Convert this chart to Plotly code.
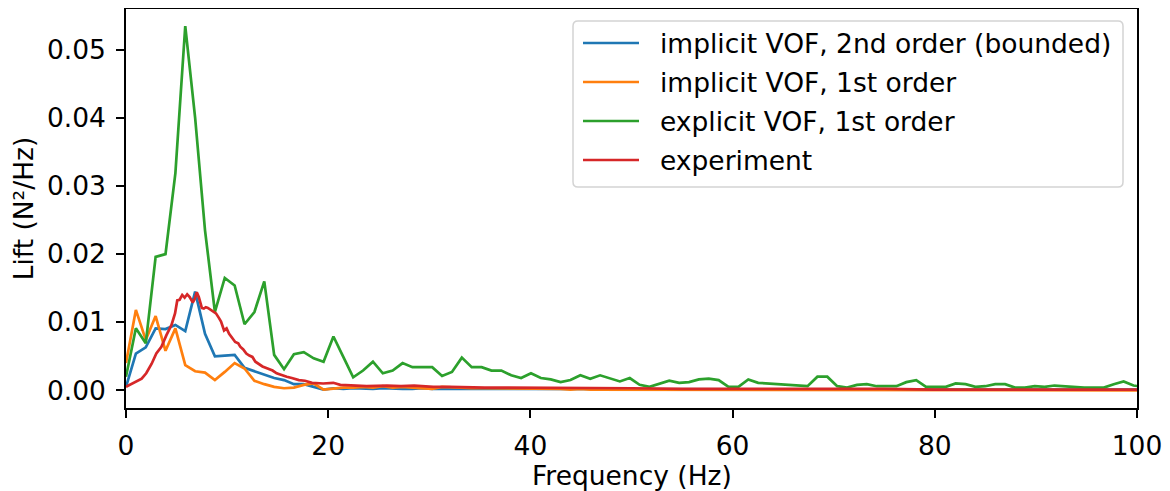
import plotly.graph_objects as go

# spectra
df = 0.977  # frequency step of the simulation spectra (Hz)

blue_vals = [0.0005, 0.0054, 0.0063, 0.0091, 0.0090, 0.0096, 0.0087, 0.0145, 0.0083, 0.0050,
             0.0051, 0.0052, 0.0033, 0.0028, 0.0024, 0.0018, 0.0015, 0.0009, 0.0009, 0.0005,
             0.0001, 0.0003, 0.0002, 0.0003, 0.0002, 0.0002, 0.0003, 0.0002, 0.0002, 0.0002,
             0.0003, 0.0002, 0.0002, 0.0002, 0.0001, 0.0002, 0.0002, 0.0002, 0.0001, 0.0002,
             0.0002, 0.0001, 0.0002, 0.0001, 0.0001, 0.0002, 0.0001, 0.0001, 0.0001, 0.0001,
             0.0001, 0.0001, 0.0001, 0.0001, 0.0001, 0.0001, 0.0001, 0.0001, 0.0001, 0.0001,
             0.0001, 0.0001, 0.0001, 0.0001, 0.0001, 0.0001, 0.0001, 0.0001, 0.0001, 0.0001,
             0.0001, 0.0001, 0.0001, 0.0001, 0.0001, 0.0001, 0.0001, 0.0001, 0.0001, 0.0001,
             0.0001, 0.0001, 0.0001, 0.0001, 0.0001, 0.0001, 0.0001, 0.0001, 0.0001, 0.0001,
             0.0001, 0.0001, 0.0001, 0.0001, 0.0001, 0.0001, 0.0001, 0.0001, 0.0001, 0.0001,
             0.0001, 0.0001, 0.0001, 0.0001]

orange_vals = [0.0040, 0.0118, 0.0074, 0.0109, 0.0058, 0.0091, 0.0037, 0.0028, 0.0026, 0.0015,
               0.0027, 0.0040, 0.0032, 0.0014, 0.0009, 0.0005, 0.0003, 0.0004, 0.0008, 0.0010,
               0.0001, 0.0003, 0.0004, 0.0004, 0.0005, 0.0004, 0.0006, 0.0004, 0.0005, 0.0004,
               0.0003, 0.0002, 0.0005, 0.0004, 0.0004, 0.0003, 0.0003, 0.0003, 0.0002, 0.0003,
               0.0002, 0.0002, 0.0002, 0.0002, 0.0002, 0.0001, 0.0002, 0.0001, 0.0001, 0.0001,
               0.0001, 0.0001, 0.0001, 0.0001, 0.0001, 0.0001, 0.0001, 0.0001, 0.0001, 0.0001,
               0.0001, 0.0001, 0.0001, 0.0001, 0.0001, 0.0001, 0.0001, 0.0001, 0.0001, 0.0001,
               0.0001, 0.0001, 0.0001, 0.0001, 0.0001, 0.0001, 0.0001, 0.0001, 0.0001, 0.0000,
               0.0000, 0.0000, 0.0000, 0.0000, 0.0000, 0.0000, 0.0000, 0.0000, 0.0000, 0.0000,
               0.0000, 0.0000, 0.0000, 0.0000, 0.0000, 0.0000, 0.0000, 0.0000, 0.0000, 0.0000,
               0.0000, 0.0000, 0.0000, 0.0000]

green_vals = [0.0020, 0.0091, 0.0069, 0.0196, 0.0200, 0.0319, 0.0535, 0.0400, 0.0235, 0.0115,
              0.0165, 0.0154, 0.0097, 0.0115, 0.0160, 0.0052, 0.0031, 0.0053, 0.0056, 0.0047,
              0.0042, 0.0079, 0.0049, 0.0019, 0.0029, 0.0042, 0.0025, 0.0029, 0.0040, 0.0034,
              0.0034, 0.0034, 0.0021, 0.0027, 0.0048, 0.0034, 0.0034, 0.0029, 0.0029, 0.0022,
              0.0018, 0.0025, 0.0018, 0.0016, 0.0012, 0.0015, 0.0022, 0.0017, 0.0022, 0.0017,
              0.0013, 0.0018, 0.0008, 0.0005, 0.0010, 0.0014, 0.0011, 0.0012, 0.0016, 0.0017,
              0.0015, 0.0005, 0.0005, 0.0016, 0.0011, 0.0010, 0.0008, 0.0007, 0.0006, 0.0006,
              0.0020, 0.0020, 0.0006, 0.0004, 0.0008, 0.0009, 0.0006, 0.0006, 0.0006, 0.0012,
              0.0015, 0.0005, 0.0005, 0.0005, 0.0010, 0.0009, 0.0005, 0.0006, 0.0009, 0.0009,
              0.0004, 0.0004, 0.0006, 0.0005, 0.0007, 0.0006, 0.0004, 0.0004, 0.0004, 0.0004,
              0.0009, 0.0013, 0.0007, 0.0005]

red_freq = [0, 0.7, 1.55, 2.0, 2.54, 3.0, 3.5, 4.0, 4.5, 4.85, 5.07, 5.3, 5.56, 5.8, 6.05,
            6.3, 6.6, 6.8, 7.0, 7.2, 7.5, 7.7, 7.9, 8.1, 8.3, 8.6, 8.9, 9.2, 9.4, 9.7,
            9.95, 10.2, 10.5, 10.8, 11.1, 11.3, 11.6, 11.9, 12.2, 12.5, 12.8, 13.2, 13.5, 14.0,
            14.5, 14.9, 15.4, 15.9, 16.4, 17.1, 17.7, 18.0, 18.4, 19.5, 20.5, 21.2, 22.5, 23.8,
            25.8, 27.2, 28.5, 30.4, 32.0, 33.7, 35.5, 37.0, 38.7, 40.3, 43.0, 46.9, 50.0, 55.0,
            60.0, 61.0, 62.0, 65.0, 70.0, 75.0, 80.0, 85.0, 90.0, 95.0, 100.0]
red_vals = [0.0005, 0.0010, 0.0017, 0.0025, 0.0039, 0.0054, 0.0064, 0.0081, 0.0096, 0.0113,
            0.0132, 0.0133, 0.0140, 0.0136, 0.0141, 0.0137, 0.0129, 0.0134, 0.0144, 0.0137,
            0.0121, 0.0120, 0.0122, 0.0121, 0.0119, 0.0115, 0.0113, 0.0106, 0.0101, 0.0088,
            0.0091, 0.0083, 0.0076, 0.0071, 0.0069, 0.0064, 0.0060, 0.0054, 0.0051, 0.0049,
            0.0042, 0.0038, 0.0035, 0.0032, 0.0029, 0.0025, 0.0022, 0.0020, 0.0018, 0.0015,
            0.0014, 0.0013, 0.0011, 0.0010, 0.0011, 0.0008, 0.0007, 0.0006, 0.0007, 0.0006,
            0.0007, 0.0005, 0.0005, 0.0004, 0.0004, 0.0004, 0.0004, 0.0004, 0.0003, 0.0003,
            0.0003, 0.0002, 0.0002, 0.0003, 0.0002, 0.0002, 0.0002, 0.0002, 0.0001, 0.0001,
            0.0001, 0.0001, 0.0001]

names = ["implicit VOF, 2nd order (bounded)", "implicit VOF, 1st order",
         "explicit VOF, 1st order", "experiment"]
colors = ["#1f77b4", "#ff7f0e", "#2ca02c", "#d62728"]

x_ticks = [0, 20, 40, 60, 80, 100]
y_ticks = [0.0, 0.01, 0.02, 0.03, 0.04, 0.05]
x_title = "Frequency (Hz)"
y_title = "Lift (N²/Hz)"

FS = 26.5

fig = go.Figure()
for i, vals in enumerate([blue_vals, orange_vals, green_vals]):
    fig.add_trace(go.Scatter(x=[k * df for k in range(len(vals))], y=vals, mode="lines",
                             name=names[i], line=dict(color=colors[i], width=2.7)))
fig.add_trace(go.Scatter(x=red_freq, y=red_vals, mode="lines", name=names[3],
                         line=dict(color=colors[3], width=2.7)))

axis_common = dict(showline=True, linecolor="black", linewidth=1.6, mirror=True,
                   ticks="outside", ticklen=8, tickwidth=1.6, tickcolor="black",
                   showgrid=False, zeroline=False, automargin=False,
                   tickfont=dict(size=FS, color="black"))

fig.update_xaxes(range=[0, 100], tickvals=x_ticks, ticklabelstandoff=5, **axis_common)
fig.update_yaxes(range=[-0.0026, 0.0560], tickvals=y_ticks, tickformat=".2f",
                 ticklabelstandoff=5,
                 title=dict(text=y_title, font=dict(size=FS, color="black"), standoff=6),
                 **axis_common)

# matplotlib-style legend drawn by hand (plotly's own legend has no gap
# between the line sample and the label)
PX0, PX1, PY0, PY1 = 126, 1137, 9, 408   # plot area in page pixels


def px(x):
    return (x - PX0) / (PX1 - PX0)


def py(y):
    return (PY1 - y) / (PY1 - PY0)


# x axis title placed as an annotation so its distance to the tick labels can be set
fig.add_annotation(text=x_title, xref="paper", yref="paper", x=0.5, y=py(475),
                   xanchor="center", yanchor="middle", showarrow=False,
                   font=dict(size=FS, color="black"))

bx0, bx1, by0, by1, r = 573, 1123, 21, 187, 5
rx, ry = r / (PX1 - PX0), r / (PY1 - PY0)
path = (f"M{px(bx0) + rx},{py(by0)} L{px(bx1) - rx},{py(by0)} "
        f"Q{px(bx1)},{py(by0)} {px(bx1)},{py(by0) - ry} "
        f"L{px(bx1)},{py(by1) + ry} Q{px(bx1)},{py(by1)} {px(bx1) - rx},{py(by1)} "
        f"L{px(bx0) + rx},{py(by1)} Q{px(bx0)},{py(by1)} {px(bx0)},{py(by1) + ry} "
        f"L{px(bx0)},{py(by0) - ry} Q{px(bx0)},{py(by0)} {px(bx0) + rx},{py(by0)} Z")
fig.add_shape(type="path", path=path, xref="paper", yref="paper", layer="above",
              fillcolor="rgba(255,255,255,0.8)", line=dict(color="#d4d4d4", width=1.5))

row_y = [43, 82, 121, 160]
for name, color, yy in zip(names, colors, row_y):
    fig.add_shape(type="line", xref="paper", yref="paper", layer="above",
                  x0=px(583), x1=px(639), y0=py(yy), y1=py(yy),
                  line=dict(color=color, width=2.7))
    fig.add_annotation(text=name, xref="paper", yref="paper", x=px(658), y=py(yy),
                       xanchor="left", yanchor="middle", showarrow=False,
                       font=dict(size=FS, color="black"))

# the page body has an 8px default margin, so margins are shifted by that amount
fig.update_layout(
    width=1170, height=491,
    margin=dict(l=118, r=41, t=1, b=91),
    plot_bgcolor="white", paper_bgcolor="white",
    font=dict(family="DejaVu Sans", color="black"),
    showlegend=False,
)

fig.write_html("out.html")
